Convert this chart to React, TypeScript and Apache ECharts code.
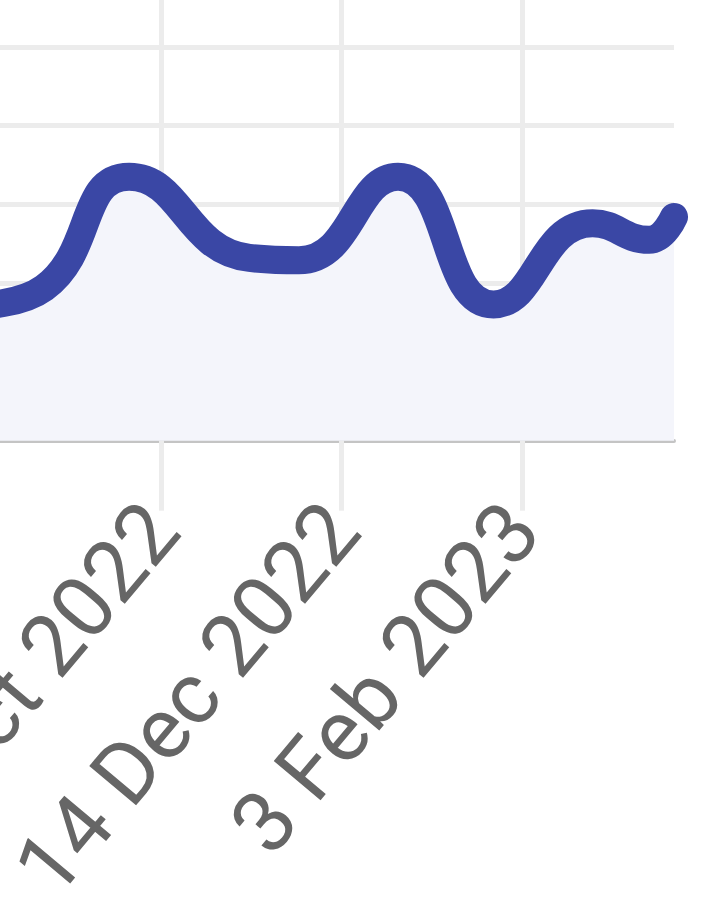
import React, { useEffect, useRef } from 'react';
import * as echarts from 'echarts';

// daily categories, a label every 51 days
const startDate = Date.UTC(2022, 8, 3);
const dayCount = 197;
const labelEvery = 51;
const months = ['Jan', 'Feb', 'Mar', 'Apr', 'May', 'Jun', 'Jul', 'Aug', 'Sep', 'Oct', 'Nov', 'Dec'];

const fmt = (t: number) => {
  const d = new Date(t);
  return `${d.getUTCDate()} ${months[d.getUTCMonth()]} ${d.getUTCFullYear()}`;
};

const categories: string[] = [];
for (let i = 0; i < dayCount; i++) categories.push(fmt(startDate + i * 86400000));

// sampled points of the series
const pointDates = [
  '3 Sep 2022', '21 Sep 2022', '15 Oct 2022', '18 Nov 2022', '2 Dec 2022',
  '30 Dec 2022', '26 Jan 2023', '23 Feb 2023', '11 Mar 2023', '18 Mar 2023',
];
const pointValues = [1.72, 1.94, 3.35, 2.32, 2.29, 3.35, 1.73, 2.76, 2.55, 2.84];

const App: React.FC = () => {
  const chartRef = useRef<HTMLDivElement>(null);

  useEffect(() => {
    if (!chartRef.current) return;
    const chart = echarts.init(chartRef.current, undefined, { renderer: 'svg' });

    chart.setOption({
      animation: false,
      grid: {
        left: 80.5,
        right: 46,
        top: 118,
        bottom: 464.3,
        containLabel: false,
        outerBoundsMode: 'none',
      },
      xAxis: {
        type: 'category',
        data: categories,
        boundaryGap: false,
        axisLine: { lineStyle: { color: '#c4c4c4', width: 4 } },
        axisTick: {
          interval: labelEvery - 1,
          length: 70,
          lineStyle: { color: '#ececec', width: 5 },
        },
        axisLabel: {
          interval: labelEvery - 1,
          rotate: 50,
          margin: 74,
          fontSize: 86,
          fontFamily: 'Roboto',
          color: '#666666',
          showMinLabel: false,
        },
        splitLine: {
          show: true,
          interval: labelEvery - 1,
          lineStyle: { color: '#ececec', width: 5 },
        },
      },
      yAxis: {
        type: 'value',
        min: 0,
        max: 6,
        interval: 1,
        axisLine: { show: false },
        axisTick: { show: false },
        axisLabel: { show: false },
        splitLine: { lineStyle: { color: '#ececec', width: 5 } },
      },
      series: [
        {
          type: 'line',
          data: pointDates.map((d, i) => [d, pointValues[i]]),
          smooth: true,
          showSymbol: false,
          lineStyle: { color: '#3a47a5', width: 28, cap: 'round', join: 'round' },
          areaStyle: { color: '#f4f5fb', opacity: 1 },
        },
      ],
    });

    return () => {
      chart.dispose();
    };
  }, []);

  return (
    <div
      ref={chartRef}
      style={{ position: 'absolute', left: -100, top: -150, width: 820, height: 1055 }}
    />
  );
};

export default App;
